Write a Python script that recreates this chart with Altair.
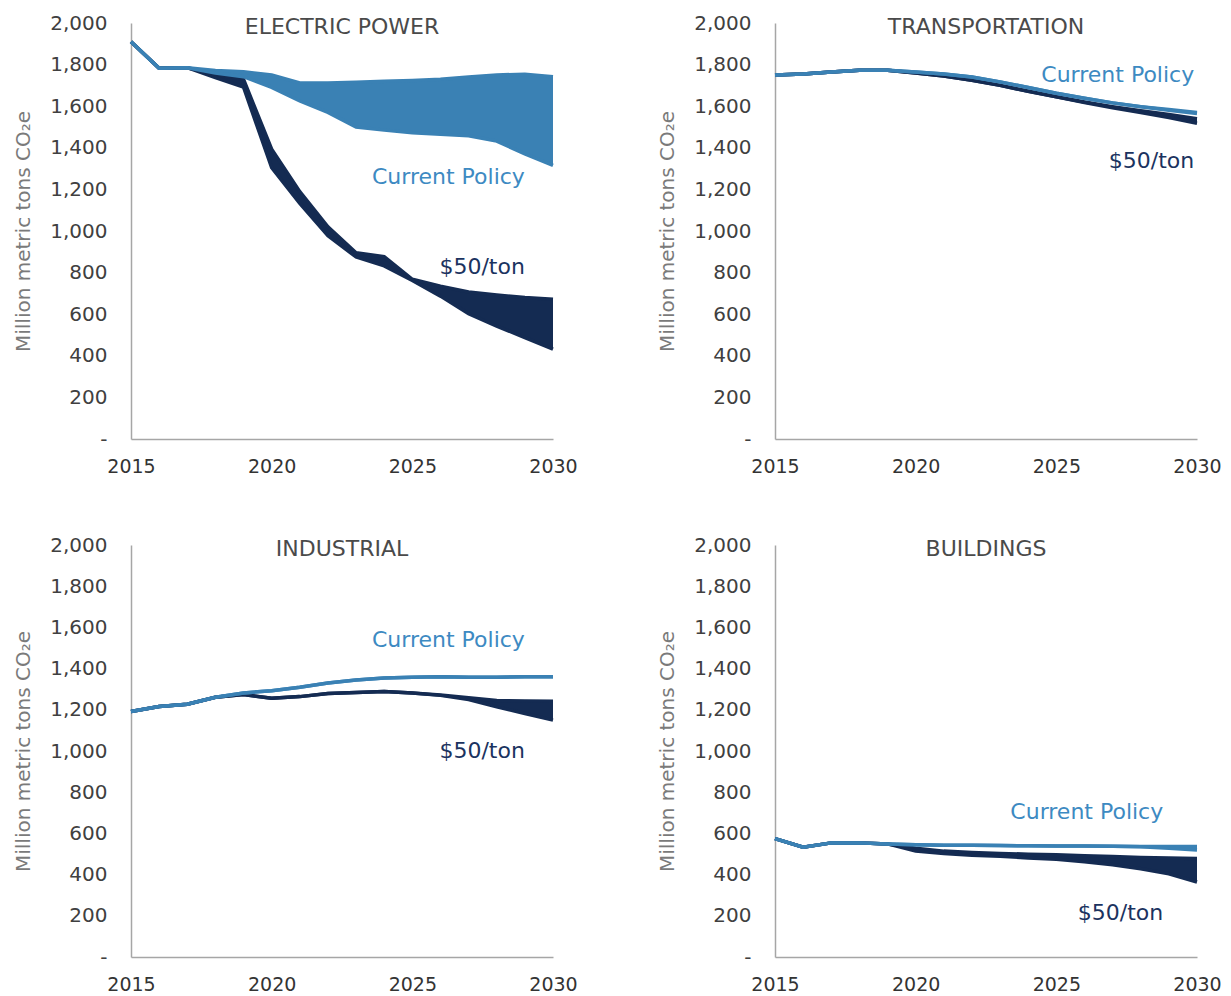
import altair as alt
import pandas as pd

YEARS = list(range(2015, 2031))

# Electric power
EP_CP_HI = [1910, 1782, 1785, 1772, 1766, 1750, 1712, 1712, 1715, 1720, 1724, 1730, 1740, 1750, 1754, 1742]
EP_CP_LO = [1910, 1782, 1785, 1760, 1742, 1690, 1625, 1570, 1500, 1485, 1472, 1465, 1458, 1432, 1371, 1316]
EP_TAX_A = [1910, 1782, 1785, 1753, 1729, 1393, 1189, 1020, 895, 877, 768, 735, 707, 692, 680, 672]
EP_TAX_B = [1910, 1782, 1785, 1737, 1692, 1304, 1133, 977, 875, 832, 762, 687, 602, 543, 487, 432]

# Transportation
TR_CP_HI = [1750, 1755, 1765, 1773, 1773, 1765, 1755, 1740, 1717, 1690, 1662, 1638, 1616, 1598, 1584, 1570]
TR_CP_LO = [1750, 1755, 1765, 1773, 1773, 1765, 1755, 1740, 1717, 1690, 1662, 1638, 1616, 1597, 1581, 1565]
TR_TAX_A = [1750, 1755, 1765, 1773, 1773, 1760, 1745, 1725, 1700, 1672, 1645, 1620, 1598, 1578, 1560, 1540]
TR_TAX_B = [1750, 1755, 1765, 1773, 1773, 1760, 1745, 1725, 1700, 1672, 1645, 1618, 1593, 1570, 1545, 1518]

# Industrial
IN_CP_HI = [1192, 1216, 1227, 1261, 1282, 1293, 1309, 1330, 1345, 1354, 1358, 1361, 1358, 1358, 1361, 1361]
IN_CP_LO = [1192, 1216, 1227, 1261, 1282, 1293, 1309, 1330, 1345, 1354, 1358, 1361, 1358, 1358, 1361, 1361]
IN_TAX_A = [1192, 1216, 1227, 1261, 1274, 1256, 1264, 1279, 1284, 1289, 1282, 1272, 1258, 1245, 1243, 1241]
IN_TAX_B = [1192, 1216, 1227, 1261, 1274, 1256, 1264, 1279, 1284, 1289, 1282, 1270, 1250, 1214, 1182, 1150]

# Buildings
BU_CP_HI = [575, 533, 554, 554, 549, 545, 543, 542, 541, 540, 539, 539, 538, 537, 537, 536]
BU_CP_LO = [575, 533, 554, 554, 549, 545, 543, 542, 541, 540, 539, 539, 538, 535, 528, 520]
BU_TAX_A = [575, 533, 554, 554, 549, 528, 514, 507, 503, 499, 496, 492, 488, 483, 480, 478]
BU_TAX_B = [575, 533, 554, 554, 549, 515, 502, 494, 489, 481, 474, 462, 448, 428, 404, 364]

SECTORS = ["ELECTRIC POWER", "TRANSPORTATION", "INDUSTRIAL", "BUILDINGS"]
SERIES = {
    "ELECTRIC POWER": (EP_CP_HI, EP_CP_LO, EP_TAX_A, EP_TAX_B),
    "TRANSPORTATION": (TR_CP_HI, TR_CP_LO, TR_TAX_A, TR_TAX_B),
    "INDUSTRIAL": (IN_CP_HI, IN_CP_LO, IN_TAX_A, IN_TAX_B),
    "BUILDINGS": (BU_CP_HI, BU_CP_LO, BU_TAX_A, BU_TAX_B),
}
# label anchor (year, value) for "Current Policy" and "$50/ton" (right-aligned)
LABELS = {
    "ELECTRIC POWER": ((2029, 1260), (2029, 827)),
    "TRANSPORTATION": ((2029.9, 1752), (2029.9, 1335)),
    "INDUSTRIAL": ((2029, 1540), (2029, 1000)),
    "BUILDINGS": ((2028.8, 704), (2028.8, 214)),
}

FONT = "DejaVu Sans"
BLUE = "#3A81B4"
NAVY = "#142B52"
BLUE_TXT = "#3D8AC2"
NAVY_TXT = "#1B3360"
W = 422
H_TOP, H_BOTTOM = 416, 412

rows = []
for s in SECTORS:
    cp_hi, cp_lo, tx_a, tx_b = SERIES[s]
    for i, yr in enumerate(YEARS):
        rows.append({"sector": s, "year": yr, "scenario": "cp", "a": cp_hi[i], "b": cp_lo[i]})
        rows.append({"sector": s, "year": yr, "scenario": "tax", "a": tx_a[i], "b": tx_b[i]})
df = pd.DataFrame(rows)

xscale = alt.Scale(domain=[2015, 2030], nice=False, zero=False)
yscale = alt.Scale(domain=[0, 2000], nice=False)
xaxis = alt.Axis(values=[2015, 2020, 2025, 2030], format="d", title=None, ticks=False,
                 grid=False, labelPadding=18, labelFontSize=19, labelFont=FONT, labelFlush=False,
                 labelColor="#333333", domainColor="#a6a6a6", domainWidth=1.5)
yaxis = alt.Axis(values=list(range(0, 2001, 200)),
                 labelExpr="datum.value == 0 ? '-\u00a0\u00a0' : format(datum.value, ',')",
                 title="Million metric tons CO\u2082e", titleFont=FONT, titleFontSize=20,
                 titleFontWeight="normal", titleColor="#7a7a7a", titlePadding=16,
                 ticks=False, grid=False, labelPadding=24, labelFontSize=20, labelFont=FONT,
                 labelColor="#404040", domainColor="#a6a6a6", domainWidth=1.5)


def make_panel(sector, height):
    sub = df[df["sector"] == sector]
    base = alt.Chart(sub)
    x_enc = alt.X("year:Q", scale=xscale, axis=xaxis)
    layers = []
    for scen, color in [("tax", NAVY), ("cp", BLUE)]:
        part = base.transform_filter(alt.datum.scenario == scen)
        layers.append(part.mark_area(color=color, opacity=1).encode(
            x=x_enc, y=alt.Y("a:Q", scale=yscale, axis=yaxis), y2="b:Q"))
        layers.append(part.mark_line(color=color, strokeWidth=3.5).encode(
            x=x_enc, y=alt.Y("a:Q", scale=yscale, axis=yaxis)))
        layers.append(part.mark_line(color=color, strokeWidth=3.5).encode(
            x=x_enc, y=alt.Y("b:Q", scale=yscale, axis=yaxis)))
    (cx, cy), (tx, ty) = LABELS[sector]
    one = alt.Data(values=[{}])
    layers.append(alt.Chart(one).mark_text(align="right", baseline="middle", font=FONT,
                                           fontSize=22, color=BLUE_TXT).encode(
        x=alt.datum(cx), y=alt.datum(cy), text=alt.value("Current Policy")))
    layers.append(alt.Chart(one).mark_text(align="right", baseline="middle", font=FONT,
                                           fontSize=22, color=NAVY_TXT).encode(
        x=alt.datum(tx), y=alt.datum(ty), text=alt.value("$50/ton")))
    return alt.layer(*layers).properties(
        width=W, height=height,
        title=alt.TitleParams(text=sector, frame="group", anchor="middle", offset=-26,
                              font=FONT, fontSize=22, fontWeight="normal", color="#4a4a4a"))


top = alt.hconcat(make_panel(SECTORS[0], H_TOP), make_panel(SECTORS[1], H_TOP), spacing=79)
bottom = alt.hconcat(make_panel(SECTORS[2], H_BOTTOM), make_panel(SECTORS[3], H_BOTTOM), spacing=79)
chart = alt.vconcat(top, bottom, spacing=59).configure_view(stroke=None).properties(
    padding={"left": 5, "top": 5, "right": 0, "bottom": 0})

chart.save("out.html", embed_options={"renderer": "svg", "actions": False})
